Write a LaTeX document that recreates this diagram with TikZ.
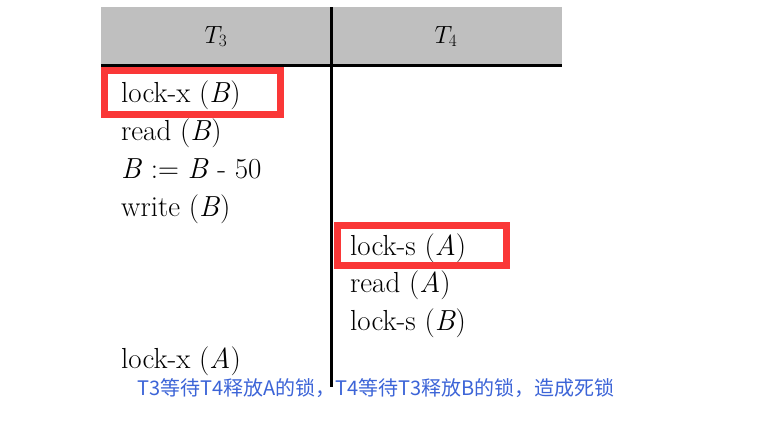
\documentclass[tikz,border=0pt]{standalone}
\usepackage{fontspec}
\newfontfamily\cjk{Noto Sans CJK SC}
\definecolor{hdr}{RGB}{191,191,191}
\definecolor{boxred}{RGB}{250,55,55}
\definecolor{noteblue}{RGB}{60,100,215}
\newcommand{\opfontsel}{\fontsize{29}{32}\selectfont\addfontfeatures{FakeStretch=1.1}}
\begin{document}
\begin{tikzpicture}[x=1pt,y=-1pt,
  op/.style={anchor=base west,inner sep=0pt,font=\opfontsel},
  hd/.style={anchor=base,inner sep=0pt,font=\fontsize{25}{30}\selectfont},
  hl/.style={draw=boxred,line width=7pt}]
\useasboundingbox (0,0) rectangle (761,421);
\fill[hdr] (101,7) rectangle (562,65);
\draw[line width=3pt] (101,65) -- (562,65);
\draw[line width=3pt] (331,7) -- (331,387);
\node[hd] (h3) at (216,43) {$T_3$};
\node[hd] (h4) at (446,43) {$T_4$};
\node[op] (a1) at (121,102) {lock-x (\textit{B})};
\node[op] (a2) at (121,140) {read (\textit{B})};
\node[op] (a3) at (121,178) {\textit{B} := \textit{B} - 50};
\node[op] (a4) at (121,216) {write (\textit{B})};
\node[op] (b1) at (350,255) {lock-s (\textit{A})};
\node[op] (b2) at (350,292) {read (\textit{A})};
\node[op] (b3) at (350,330) {lock-s (\textit{B})};
\node[op] (a5) at (121,368) {lock-x (\textit{A})};
\draw[hl] (104.5,70.5) rectangle (280.5,114.5);
\draw[hl] (337,225) rectangle (506.5,265.5);
\node[anchor=base west,inner sep=0pt,text=noteblue,font=\cjk\fontsize{20}{24}\selectfont] (note) at (137,395) {T3等待T4释放A的锁，T4等待T3释放B的锁，造成死锁};
\end{tikzpicture}
\end{document}
